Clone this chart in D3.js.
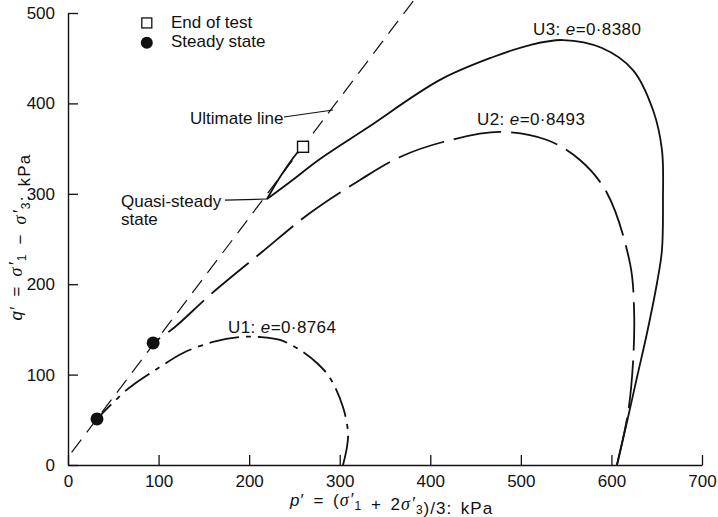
<!DOCTYPE html>
<html><head><meta charset="utf-8">
<script src="https://cdn.jsdelivr.net/npm/d3@7"></script>
<style>
html,body{margin:0;padding:0;background:#fff;}
svg text{font-family:"Liberation Sans",Arial,Helvetica,sans-serif;font-size:17px;fill:#111;}
</style></head>
<body>
<svg id="c" width="718" height="517"></svg>
<script>
// ---- data (p', q' in kPa) ----
const xTicks = [0,100,200,300,400,500,600,700];
const yTicks = [0,100,200,300,400,500];

const ultimateP = [4, 390];
const ultimateQ = [14, 525];

const u1P = [303.6,308,309.2,303.6,289.3,276,256.2,234.1,212,189.9,160.1,127,101.6,71.8,60.7,32];
const u1Q = [0,19.9,35.4,64.2,96.2,111.7,127.2,138.3,141.6,141.6,136.1,123.9,108.4,88.5,79.6,50.9];

const u2P = [606.1,618.3,623.8,625,620.5,595.1,565.3,528.9,477,414,366.6,322.4,267.2,214.2,156.8,118.1,93.9];
const u2Q = [0,57.5,112.8,171.5,223,300.9,337.4,359.5,368.4,357.3,340.7,315.3,278.8,235.6,188.1,152.7,135];

const u3P = [606.1,618.4,628.3,639.3,650.3,655.8,656.9,655.8,645.9,623.8,589.6,546.5,510.1,469.3,410.7,330.1,278.2,245.1,219.7];
const u3Q = [0,53.1,97.3,146,201.3,237.8,293.1,348.5,392.7,436.9,461.3,470.1,464.6,451.3,426,372.8,338.5,313.1,294.2];

const u3TailP = [219.7,234.1,252.9,259.5];
const u3TailQ = [294.2,318.6,345.1,352];

const steadyP = [32, 94];
const steadyQ = [51, 135];
const endP = [259.5];
const endQ = [352];

const curveLabels = ["U1: ", "U2: ", "U3: "];
const curveE = ["0·8764", "0·8493", "0·8380"];

// ---- layout ----
const svg = d3.select("#c");
const x = d3.scaleLinear().domain([0,700]).range([68,702]);
const y = d3.scaleLinear().domain([0,500]).range([465,13]);

const zip = (P,Q) => P.map((p,i)=>[p,Q[i]]);
const line = d3.line().x(d=>x(d[0])).y(d=>y(d[1])).curve(d3.curveCatmullRom.alpha(0.5));
const straight = d3.line().x(d=>x(d[0])).y(d=>y(d[1]));

// axes
const xAxis = d3.axisBottom(x).tickValues(xTicks).tickSizeInner(-10).tickSizeOuter(0).tickPadding(10);
const yAxis = d3.axisLeft(y).tickValues(yTicks).tickSizeInner(-10).tickSizeOuter(0).tickPadding(13);
const gx = svg.append("g").attr("transform","translate(0,465)").call(xAxis);
const gy = svg.append("g").attr("transform","translate(68,0)").call(yAxis);
[gx,gy].forEach(g=>{
  g.select(".domain").attr("stroke","#111").attr("stroke-width",1.4);
  g.selectAll(".tick line").attr("stroke","#111").attr("stroke-width",1.3);
  g.selectAll(".tick text").attr("font-size",17).attr("font-family","Liberation Sans, Arial, sans-serif").attr("fill","#111");
});
gx.selectAll(".tick text").attr("dy","0.71em");

// ultimate line
svg.append("path").attr("d", straight(zip(ultimateP,ultimateQ)))
  .attr("fill","none").attr("stroke","#111").attr("stroke-width",1.2).attr("stroke-dasharray","16,9");

// U1 dash-dot
svg.append("path").attr("d", line(zip(u1P,u1Q)))
  .attr("fill","none").attr("stroke","#111").attr("stroke-width",1.8).attr("stroke-dasharray","30,7,5,7");
// U2 long dash
svg.append("path").attr("d", line(zip(u2P,u2Q)))
  .attr("fill","none").attr("stroke","#111").attr("stroke-width",1.8).attr("stroke-dasharray","48,10");
// U3 solid
svg.append("path").attr("d", line(zip(u3P,u3Q)))
  .attr("fill","none").attr("stroke","#111").attr("stroke-width",1.8);
svg.append("path").attr("d", line(zip(u3TailP,u3TailQ)))
  .attr("fill","none").attr("stroke","#111").attr("stroke-width",1.8);

// markers
svg.selectAll(".steady").data(zip(steadyP,steadyQ)).enter().append("circle")
  .attr("cx",d=>x(d[0])).attr("cy",d=>y(d[1])).attr("r",6.5).attr("fill","#111");
svg.selectAll(".endt").data(zip(endP,endQ)).enter().append("rect")
  .attr("x",d=>x(d[0])-5.5).attr("y",d=>y(d[1])-5.5).attr("width",11).attr("height",11)
  .attr("fill","#fff").attr("stroke","#111").attr("stroke-width",1.4);

// legend
svg.append("rect").attr("x",x(87)-5).attr("y",y(489)-5).attr("width",10).attr("height",10)
  .attr("fill","#fff").attr("stroke","#111").attr("stroke-width",1.3);
svg.append("text").attr("x",x(113.7)).attr("y",y(482.9)).text("End of test");
svg.append("circle").attr("cx",x(87)).attr("cy",y(467)).attr("r",6).attr("fill","#111");
svg.append("text").attr("x",x(113.7)).attr("y",y(462.4)).text("Steady state");

// annotations
svg.append("text").attr("x",x(134.7)).attr("y",y(377.2)).attr("font-size",16.5).text("Ultimate line");
svg.append("path").attr("d", straight([[238.5,385],[292.6,392.7]])).attr("stroke","#111").attr("stroke-width",1.1).attr("fill","none");
svg.append("text").attr("x",x(58.5)).attr("y",y(285.4)).text("Quasi-steady");
svg.append("text").attr("x",x(58.5)).attr("y",y(265.5)).text("state");
svg.append("path").attr("d", straight([[173.3,293],[219.7,294.2]])).attr("stroke","#111").attr("stroke-width",1.1).attr("fill","none");

const labPos = [[176.7,146],[451.6,376],[513.4,476]];
labPos.forEach((lp,i)=>{
  const t = svg.append("text").attr("x",x(lp[0])).attr("y",y(lp[1])).attr("letter-spacing","0.4px");
  t.append("tspan").text(curveLabels[i]);
  t.append("tspan").attr("font-style","italic").text("e");
  t.append("tspan").text("=" + curveE[i]);
});

// axis titles
const sigma = (t,sub)=>{
  t.append("tspan").attr("font-family","Liberation Serif, Times New Roman, serif").attr("font-style","italic").attr("font-size",18).text("σ′");
  t.append("tspan").attr("font-size",12).attr("dy",4).text(sub);
  t.append("tspan").attr("dy",-4).text("");
};
const xt = svg.append("text").attr("x",290).attr("y",506).attr("letter-spacing","1px").attr("word-spacing","3px");
xt.append("tspan").attr("font-style","italic").text("p");
xt.append("tspan").text("′ = (");
sigma(xt,"1");
xt.append("tspan").text(" + 2");
sigma(xt,"3");
xt.append("tspan").text(")/3: kPa");

const yt = svg.append("text").attr("transform","translate(22,237) rotate(-90)").attr("text-anchor","middle")
  .attr("letter-spacing","1.2px").attr("word-spacing","3px");
yt.append("tspan").attr("font-style","italic").text("q");
yt.append("tspan").text("′ = ");
sigma(yt,"1");
yt.append("tspan").text(" − ");
sigma(yt,"3");
yt.append("tspan").text(": kPa");
</script>
</body></html>
